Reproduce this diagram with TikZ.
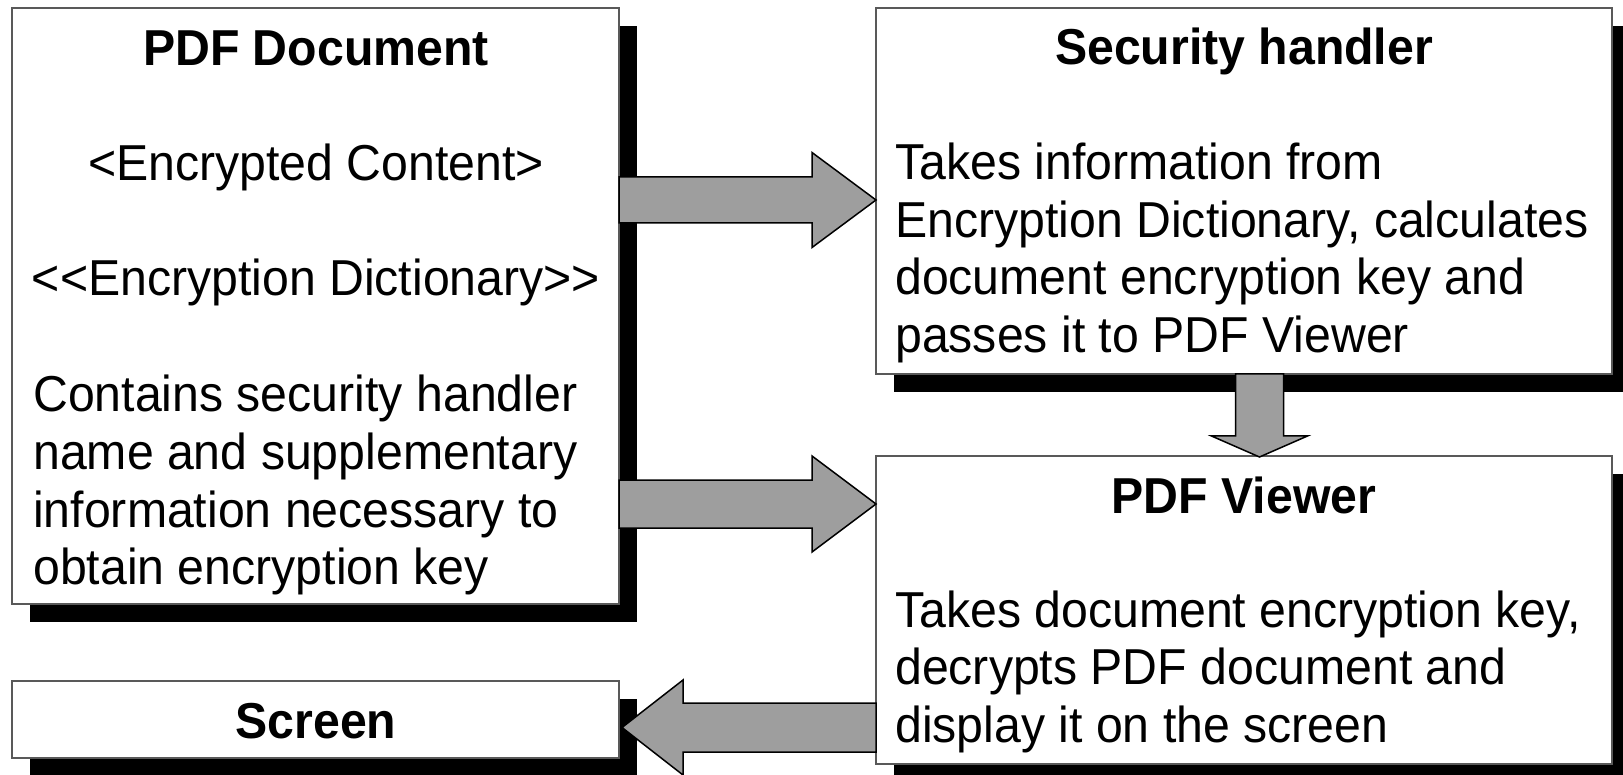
\documentclass[tikz,border=0pt]{standalone}
\usepackage{fontspec}
\setmainfont{Liberation Sans}[FakeStretch=0.955]
\usetikzlibrary{calc,backgrounds}
\begin{document}
\begin{tikzpicture}[x=1pt,y=-1pt,
  box/.style={draw=black!65, line width=1.5pt, fill=white, rectangle,
    inner sep=0pt, outer sep=0pt, anchor=north west},
  shade/.style={fill=black},
  barrow/.style={draw=black, line width=1.5pt, fill=black!38, line join=miter},
  ttl/.style={font=\fontsize{50.5}{57.5}\selectfont\bfseries, inner sep=0pt, anchor=base},
  txt/.style={font=\fontsize{50.5}{57.5}\selectfont, inner sep=0pt, anchor=base west},
  ctxt/.style={font=\fontsize{50.5}{57.5}\selectfont, inner sep=0pt, anchor=base},
]
\useasboundingbox (0,0) rectangle (1623,775);

% boxes
\node[box, minimum width=607pt, minimum height=596pt] (doc) at (12,8) {};
\node[box, minimum width=607pt, minimum height=77pt] (scr) at (12,681) {};
\node[box, minimum width=736pt, minimum height=366pt] (sec) at (876,8) {};
\node[box, minimum width=736pt, minimum height=308pt] (view) at (876,456) {};

% drop shadows
\begin{scope}[on background layer]
  \foreach \b in {doc,scr,sec,view}
    \fill[shade] ($(\b.north west)+(18,18)$) rectangle ($(\b.south east)+(18,18)$);
\end{scope}

% PDF document
\node[ttl] (docT) at (316,66) {PDF Document};
\node[ctxt] (docA) at (316,181) {<Encrypted Content>};
\node[ctxt] (docB) at (316,296) {{<}{<}Encryption Dictionary{>}{>}};
\node[txt] (docC1) at (33,412) {Contains security handler};
\node[txt] (docC2) at (33,469.5) {name and supplementary};
\node[txt] (docC3) at (33,527) {information necessary to};
\node[txt] (docC4) at (33,584.5) {obtain encryption key};

% security handler
\node[ttl] (secT) at (1244,65) {Security handler};
\node[txt] (secL1) at (895,180) {Takes information from};
\node[txt] (secL2) at (895,237.5) {Encryption Dictionary, calculates};
\node[txt] (secL3) at (895,295) {document encryption key and};
\node[txt] (secL4) at (895,352.5) {passes it to PDF Viewer};

% PDF viewer
\node[ttl] (viewT) at (1244,513) {PDF Viewer};
\node[txt] (viewL1) at (895,627) {Takes document encryption key,};
\node[txt] (viewL2) at (895,684.5) {decrypts PDF document and};
\node[txt] (viewL3) at (895,742) {display it on the screen};

% screen
\node[ttl] (scrT) at (316,738) {Screen};

% arrow rows
\coordinate (r1) at (0,200);
\coordinate (r2) at (0,504);
\coordinate (r3) at (0,727.5);
\coordinate (c4) at (1259.5,0);

\coordinate (a1s) at (doc.east |- r1);
\coordinate (a1t) at (sec.west |- r1);
\coordinate (a2s) at (doc.east |- r2);
\coordinate (a2t) at (view.west |- r2);
\coordinate (a3s) at (view.west |- r3);
\coordinate (a3t) at ($(scr.east |- r3)+(3,0)$);
\coordinate (a4s) at (sec.south -| c4);
\coordinate (a4t) at ($(view.north -| c4)+(0,1)$);

% block arrows
\draw[barrow] ($(a1s)+(0,-23)$) -- ($(a1t)+(-64,-23)$) -- ($(a1t)+(-64,-47.5)$) -- (a1t)
  -- ($(a1t)+(-64,47.5)$) -- ($(a1t)+(-64,23)$) -- ($(a1s)+(0,23)$) -- cycle;
\draw[barrow] ($(a2s)+(0,-24)$) -- ($(a2t)+(-64,-24)$) -- ($(a2t)+(-64,-48)$) -- (a2t)
  -- ($(a2t)+(-64,48)$) -- ($(a2t)+(-64,24)$) -- ($(a2s)+(0,24)$) -- cycle;
\draw[barrow] ($(a3s)+(0,-24.5)$) -- ($(a3t)+(61,-24.5)$) -- ($(a3t)+(61,-47.5)$) -- (a3t)
  -- ($(a3t)+(61,47.5)$) -- ($(a3t)+(61,24.5)$) -- ($(a3s)+(0,24.5)$) -- cycle;
\draw[barrow] ($(a4s)+(-24,0)$) -- ($(a4t)+(-24,-21)$) -- ($(a4t)+(-48,-21)$) -- (a4t)
  -- ($(a4t)+(48,-21)$) -- ($(a4t)+(24,-21)$) -- ($(a4s)+(24,0)$) -- cycle;
\end{tikzpicture}
\end{document}
